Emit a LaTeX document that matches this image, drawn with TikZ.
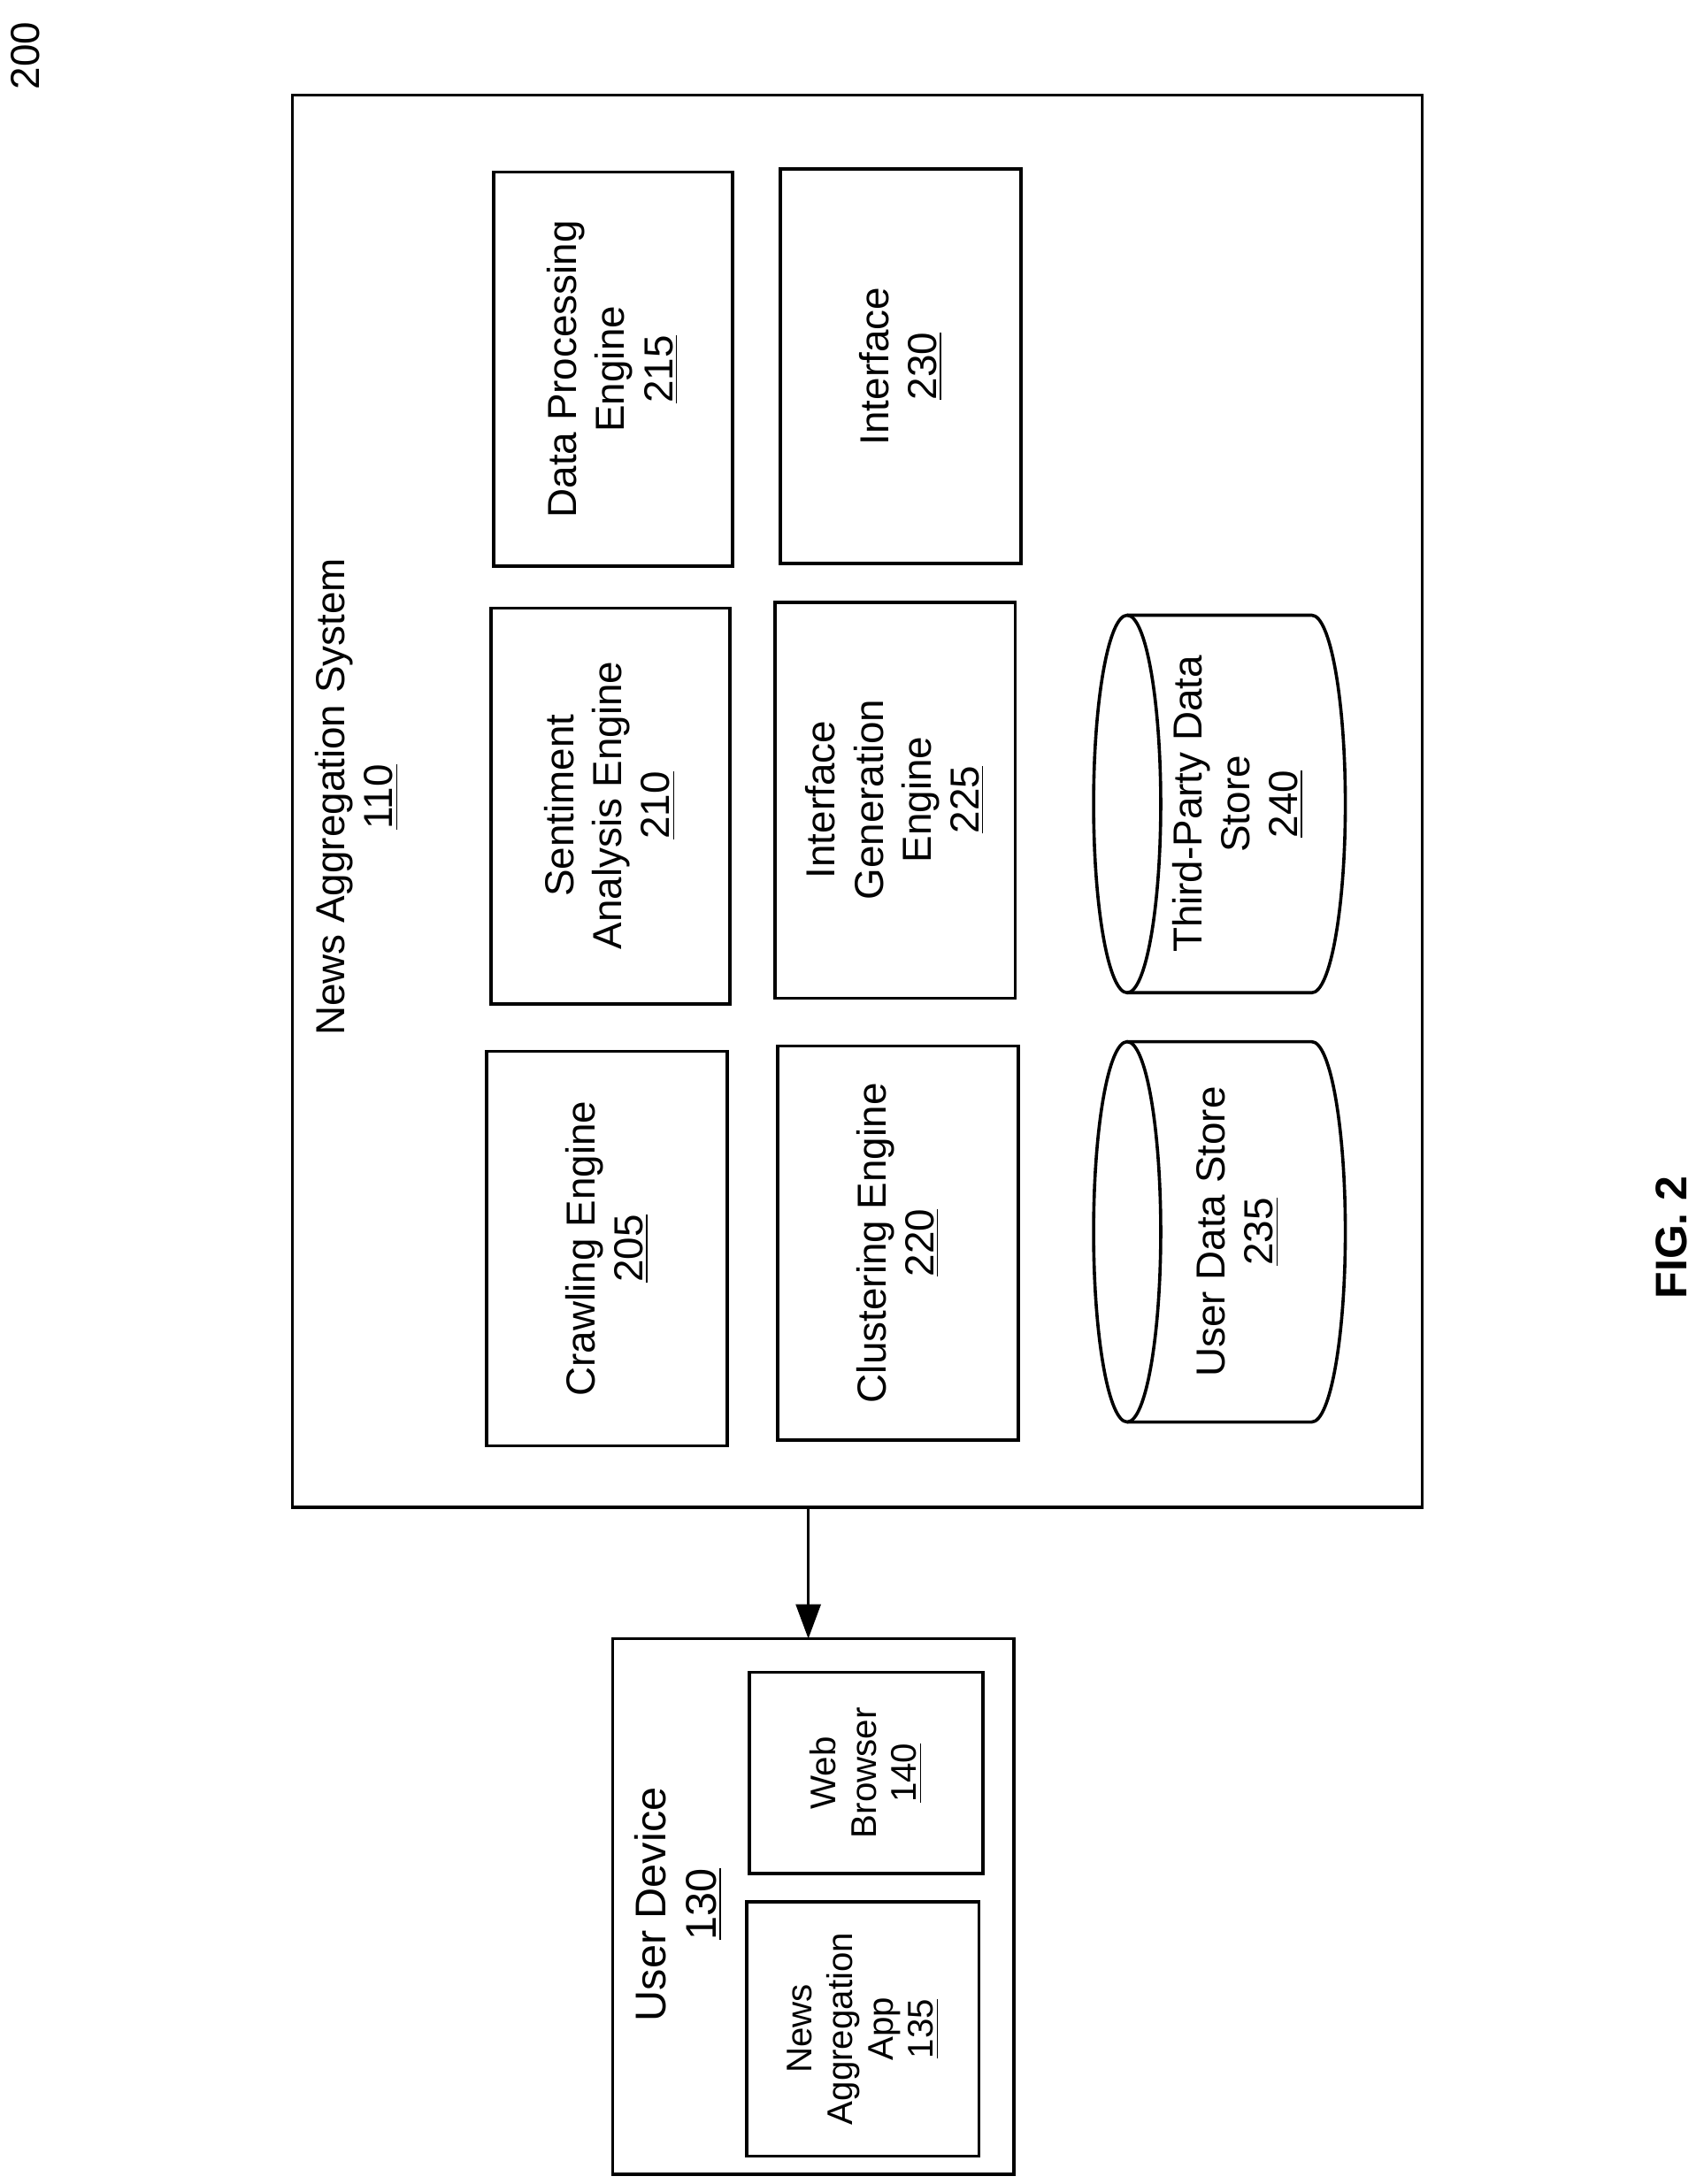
\documentclass[tikz,border=0pt]{standalone}
\usepackage{fontspec}
\setmainfont{Liberation Sans}
\usetikzlibrary{arrows.meta}
\begin{document}
\begin{tikzpicture}[x=0.02cm,y=-0.02cm,
  box/.style={draw,line width=1.3pt},
  txt/.style={rotate=90,align=center,font=\fontsize{16.5}{19.5}\selectfont},
  cyl/.style={line width=1.3pt}]
\useasboundingbox (0,0) rectangle (1218,1562);
\node[txt] (n200) at (18,40) {200};
\draw[box] (209,68) rectangle (1017,1078);
\coordinate (sysb) at (578,1078);
\node[txt] (sys) at (255,570) {News Aggregation System\\\underline{110}};
\draw[box] (348,752) rectangle (520,1034); \node[txt] (c205) at (434,893) {Crawling Engine\\\underline{205}};
\draw[box] (351,435) rectangle (522,718); \node[txt] (c210) at (436,576) {Sentiment\\Analysis Engine\\\underline{210}};
\draw[box] (353,123) rectangle (524,405); \node[txt] (c215) at (438,264) {Data Processing\\Engine\\\underline{215}};
\draw[box] (556,748) rectangle (728,1030); \node[txt] (c220) at (642,889) {Clustering Engine\\\underline{220}};
\draw[box] (554,431) rectangle (726,714); \node[txt] (c225) at (640,572) {Interface\\Generation\\Engine\\\underline{225}};
\draw[box] (558,121) rectangle (730,403); \node[txt] (c230) at (644,262) {Interface\\\underline{230}};
\foreach \yc/\r in {881/136,575/135}{
  \draw[cyl] (806,\yc) ellipse [x radius=24, y radius=\r];
  \draw[cyl] (806,\yc-\r) -- (938,\yc-\r) arc[start angle=-90,end angle=90,x radius=24,y radius=\r] -- (806,\yc+\r);
}
\node[txt] (c235) at (885,881) {User Data Store\\\underline{235}};
\node[txt] (c240) at (885,575) {Third-Party Data\\Store\\\underline{240}};
\draw[box] (438,1172) rectangle (725,1555);
\coordinate (devt) at (578,1172);
\draw[line width=1.3pt,-{Triangle[length=14pt,width=10pt]}] (sysb) -- (devt);
\node[txt,font=\fontsize{17.5}{20.5}\selectfont] (dev) at (485,1362) {User Device\\\underline{130}};
\draw[box] (534,1360) rectangle (700,1542); \node[txt,font=\fontsize{14.5}{16.5}\selectfont] (c135) at (617,1451) {News\\Aggregation\\App\\\underline{135}};
\draw[box] (536,1196) rectangle (703,1340); \node[txt,font=\fontsize{14.5}{16.5}\selectfont] (c140) at (619,1268) {Web\\Browser\\\underline{140}};
\node[txt,font=\bfseries\fontsize{18}{20}\selectfont] (fig) at (1195,885) {FIG. 2};
\end{tikzpicture}
\end{document}
